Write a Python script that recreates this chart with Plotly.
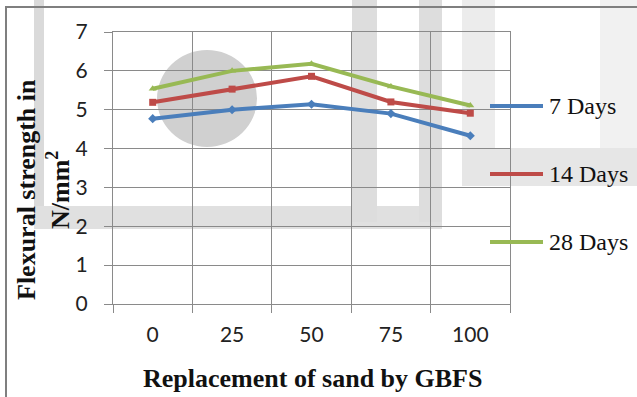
import plotly.graph_objects as go

# ---- data ----
categories = ["0", "25", "50", "75", "100"]
series_names = ["7 Days", "14 Days", "28 Days"]
days7 = [4.77, 5.00, 5.14, 4.90, 4.33]
days14 = [5.19, 5.53, 5.86, 5.20, 4.91]
days28 = [5.54, 6.00, 6.18, 5.60, 5.11]
y_ticks = [0, 1, 2, 3, 4, 5, 6, 7]

colors = ["#4A7EBB", "#BE4B48", "#98B954"]
symbols = ["diamond", "square", "triangle-up"]

SERIF = "'Times New Roman', 'Liberation Serif', serif"

W, H = 637, 397
ML, MR, MT, MB = 113, 127, 32, 93
PW, PH = W - ML - MR, H - MT - MB


def px(x):
    return (x - ML) / PW


def py(y):
    return (H - MB - y) / PH


fig = go.Figure()
for name, vals, c, s in zip(series_names, [days7, days14, days28], colors, symbols):
    fig.add_trace(go.Scatter(
        x=categories, y=vals, name=name, mode="lines+markers",
        line=dict(color=c, width=4), marker=dict(symbol=s, size=7, color=c),
        showlegend=False,
    ))

shapes = []
# faint watermark shapes in background
wm = [
    ("circle", 157, 50, 257, 147, "#d0d0d0"),
    ("rect", 34, 0, 44, 222, "#dadada"),
    ("rect", 34, 206, 442, 229, "#e0e0e0"),
    ("rect", 352, 0, 377, 222, "#dddddd"),
    ("rect", 419, 0, 442, 222, "#dddddd"),
    ("rect", 462, 0, 495, 148, "#ececec"),
    ("rect", 462, 148, 637, 186, "#e6e6e6"),
    ("rect", 600, 0, 637, 148, "#f1f1f1"),
]
for kind, x0, y0, x1, y1, col in wm:
    shapes.append(dict(type=kind, xref="paper", yref="paper",
                       x0=px(x0), x1=px(x1), y0=py(y1), y1=py(y0),
                       fillcolor=col, line=dict(width=0), layer="below"))
# outer chart border
shapes.append(dict(type="rect", xref="paper", yref="paper",
                   x0=px(6), x1=px(645), y0=py(405), y1=py(7),
                   line=dict(color="#7f7f7f", width=2), fillcolor="rgba(0,0,0,0)",
                   layer="above"))

annotations = []
# manual legend
leg_y = [106, 174, 242]
for name, c, s, ly in zip(series_names, colors, symbols, leg_y):
    shapes.append(dict(type="line", xref="paper", yref="paper",
                       x0=px(490), x1=px(543), y0=py(ly), y1=py(ly),
                       line=dict(color=c, width=4), layer="above"))
    annotations.append(dict(text=name, xref="paper", yref="paper",
                            x=px(547), y=py(ly), xanchor="left", yanchor="middle",
                            showarrow=False,
                            font=dict(family=SERIF, size=24, color="#111")))

# axis titles
annotations.append(dict(text="<b>Replacement of sand by GBFS</b>", xref="paper", yref="paper",
                        x=px(312), y=py(378), xanchor="center", yanchor="middle",
                        showarrow=False,
                        font=dict(family=SERIF, size=26, color="#111")))
annotations.append(dict(text="<b>Flexural strength in<br>N/mm<sup>2</sup></b>", xref="paper", yref="paper",
                        x=px(44), y=py(190), xanchor="center", yanchor="middle",
                        textangle=-90, showarrow=False,
                        font=dict(family=SERIF, size=26, color="#111")))

grid = "#8a8a8a"
fig.update_layout(
    width=W, height=H,
    margin=dict(l=ML, r=MR, t=MT, b=MB),
    paper_bgcolor="white", plot_bgcolor="rgba(0,0,0,0)",
    shapes=shapes, annotations=annotations,
    xaxis=dict(type="category", range=[-0.5, 4.5], tickson="boundaries",
               showgrid=True, gridcolor=grid, gridwidth=1,
               ticks="outside", ticklen=8, tickcolor=grid,
               showline=True, linecolor=grid, linewidth=1, mirror=True,
               ticklabelstandoff=12,
               tickfont=dict(family="Lato", size=21, color="#222")),
    yaxis=dict(range=[0, 7], tickvals=y_ticks, showgrid=True, gridcolor=grid, gridwidth=1,
               ticks="outside", ticklen=8, tickcolor=grid, zeroline=False,
               showline=True, linecolor=grid, linewidth=1, mirror=True,
               ticklabelstandoff=12,
               tickfont=dict(family="Lato", size=21, color="#222")),
)

fig.write_html("out.html")
